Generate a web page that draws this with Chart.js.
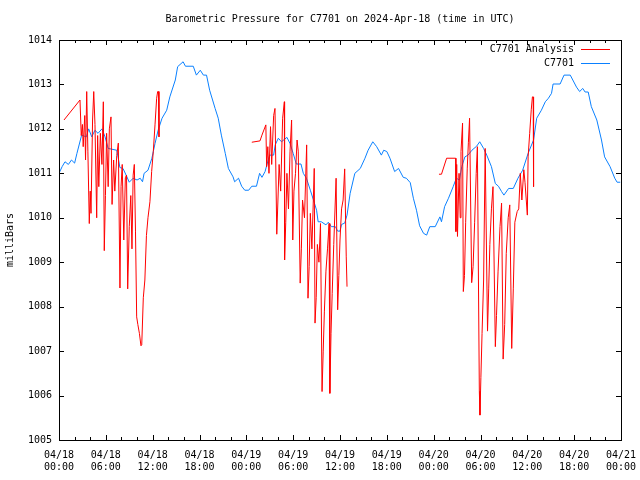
<!DOCTYPE html>
<html>
<head>
<meta charset="utf-8">
<script src="https://cdn.jsdelivr.net/npm/chart.js@4.4.1/dist/chart.umd.min.js"></script>
<style>
  html, body { margin: 0; padding: 0; background: #fff; }
  canvas { display: block; }
</style>
</head>
<body>
<canvas id="chart" width="640" height="480"></canvas>
<script>
// hours since 04/18 00:00 UTC, pressure in mb
const stationSeries = [
  [0,1011.0],[0.4,1011.15],[0.77,1011.26],[1.2,1011.2],[1.6,1011.3],[2.0,1011.23],[2.3,1011.45],[2.9,1011.86],
  [3.5,1011.82],[3.8,1012.0],[4.2,1011.82],[4.6,1011.97],[5.0,1011.9],[5.5,1012.0],[5.9,1011.82],[6.3,1011.56],
  [7.4,1011.52],[7.6,1011.34],[7.8,1011.13],[8.2,1011.11],[8.7,1010.92],[9.0,1010.8],[9.5,1010.89],[10.0,1010.85],
  [10.4,1010.89],[10.7,1010.81],[10.9,1011.0],[11.4,1011.07],[11.9,1011.34],[12.3,1011.67],[12.7,1011.97],
  [13.2,1012.24],[13.8,1012.42],[14.2,1012.72],[14.9,1013.1],[15.2,1013.4],[15.9,1013.51],[16.2,1013.41],
  [17.2,1013.41],[17.6,1013.21],[18.1,1013.32],[18.5,1013.21],[18.9,1013.21],[19.3,1012.87],[20.0,1012.46],
  [20.4,1012.24],[20.8,1011.86],[21.3,1011.45],[21.7,1011.11],[22.3,1010.92],[22.5,1010.81],[23.0,1010.89],
  [23.4,1010.71],[23.8,1010.62],[24.3,1010.62],[24.7,1010.71],[25.3,1010.71],[25.7,1011.0],[26.0,1010.91],
  [26.4,1011.04],[26.8,1011.3],[27.0,1011.41],[27.5,1011.41],[27.7,1011.64],[28.1,1011.79],[28.5,1011.71],
  [29.2,1011.81],[29.6,1011.67],[30.0,1011.45],[30.4,1011.21],[31.0,1011.21],[31.3,1011.0],[31.7,1010.89],
  [32.2,1010.62],[32.6,1010.4],[33.0,1010.17],[33.2,1009.91],[33.6,1009.91],[34.2,1009.84],[34.5,1009.9],
  [34.9,1009.8],[35.4,1009.8],[35.7,1009.7],[36.0,1009.7],[36.2,1009.85],[36.6,1009.88],[36.9,1010.06],
  [37.3,1010.55],[37.9,1011.0],[38.6,1011.11],[39.2,1011.34],[39.6,1011.52],[40.2,1011.71],[40.7,1011.6],
  [41.3,1011.41],[41.6,1011.52],[42.0,1011.49],[42.4,1011.34],[43.0,1011.04],[43.5,1011.11],[44.1,1010.91],
  [44.5,1010.89],[45.0,1010.79],[45.4,1010.44],[45.8,1010.17],[46.2,1009.82],[46.7,1009.65],[47.1,1009.61],
  [47.5,1009.8],[48.2,1009.8],[48.8,1010.02],[49.0,1009.91],[49.4,1010.25],[49.9,1010.44],[50.5,1010.7],
  [50.9,1010.89],[51.3,1010.85],[51.6,1011.15],[52.0,1011.37],[52.4,1011.41],[52.9,1011.52],[53.5,1011.61],
  [53.9,1011.71],[54.4,1011.56],[54.8,1011.41],[55.4,1011.15],[55.9,1010.77],[56.3,1010.71],[56.7,1010.59],
  [57.0,1010.51],[57.6,1010.66],[58.2,1010.66],[58.8,1010.89],[59.4,1011.07],[60.1,1011.45],[60.8,1011.75],
  [61.2,1012.24],[61.8,1012.42],[62.3,1012.61],[62.7,1012.69],[63.1,1012.8],[63.3,1013.01],[64.2,1013.01],
  [64.7,1013.21],[65.5,1013.21],[66.3,1012.94],[66.7,1012.84],[67.1,1012.91],[67.4,1012.83],[67.8,1012.83],
  [68.2,1012.5],[68.9,1012.2],[69.5,1011.75],[69.9,1011.37],[70.6,1011.15],[71.2,1010.89],[71.5,1010.8],[71.9,1010.8]
];

const analysisDay1 = [
  [0.64,1012.2],[2.69,1012.65],[2.85,1011.85],[3.0,1012.1],[3.1,1011.6],[3.3,1012.3],[3.4,1011.3],[3.55,1012.84],
  [3.7,1011.5],[3.88,1009.87],[4.0,1010.6],[4.1,1010.1],[4.3,1012.2],[4.45,1012.84],[4.61,1012.1],[4.83,1010.0],
  [4.95,1011.85],[5.1,1010.7],[5.3,1011.9],[5.5,1011.2],[5.68,1012.61],[5.8,1009.26],[5.95,1010.5],[6.1,1011.9],
  [6.3,1010.7],[6.45,1012.0],[6.66,1012.27],[6.8,1010.3],[7.0,1011.3],[7.15,1010.6],[7.4,1011.4],[7.6,1011.68],
  [7.81,1008.42],[7.95,1010.7],[8.1,1011.2],[8.3,1009.5],[8.5,1010.9],[8.65,1010.96],[8.8,1008.4],[9.0,1009.8],
  [9.2,1010.5],[9.35,1009.3],[9.5,1010.96],[9.65,1011.2],[9.8,1009.7],[9.95,1007.77],[10.1,1007.6],[10.3,1007.4],
  [10.5,1007.12],[10.6,1007.14],[10.8,1008.2],[11.0,1008.6],[11.2,1009.6],[11.4,1010.0],[11.65,1010.36],
  [11.87,1011.04],[12.08,1011.49],[12.3,1012.09],[12.51,1012.69],[12.64,1012.84],[12.75,1012.84],[12.81,1011.82]
];

const analysisDay2 = [
  [24.7,1011.7],[25.75,1011.73],[26.0,1011.86],[26.5,1012.09],[26.6,1011.15],[26.75,1011.6],[26.9,1011.0],
  [27.1,1012.05],[27.25,1011.2],[27.5,1012.3],[27.67,1012.46],[27.9,1009.63],[28.05,1010.4],[28.2,1011.2],
  [28.4,1010.6],[28.65,1012.24],[28.87,1012.61],[28.9,1009.05],[29.05,1009.9],[29.2,1011.0],[29.4,1010.2],
  [29.6,1011.5],[29.8,1012.2],[29.95,1009.5],[30.1,1010.6],[30.3,1011.0],[30.5,1011.75],[30.65,1011.5],
  [30.9,1008.53],[31.05,1009.3],[31.2,1010.4],[31.45,1010.0],[31.73,1011.64],[31.9,1008.19],[32.05,1008.9],
  [32.2,1010.1],[32.4,1009.3],[32.7,1011.11],[32.8,1007.63],[32.95,1008.2],[33.1,1009.4],[33.3,1009.0],
  [33.5,1009.87],[33.7,1006.09],[33.85,1007.0],[34.0,1007.9],[34.2,1008.8],[34.4,1009.3],[34.6,1009.87],
  [34.7,1006.05],[34.85,1007.4],[35.0,1008.3],[35.2,1009.4],[35.5,1010.89],[35.7,1007.93],[35.85,1008.7],
  [36.0,1009.5],[36.2,1010.2],[36.4,1010.4],[36.6,1011.1],[36.8,1009.12],[36.9,1008.45]
];

const analysisDay3 = [
  [48.68,1010.98],[49.0,1010.98],[49.66,1011.34],[50.82,1011.34],[50.85,1009.69],[50.95,1011.2],[51.05,1009.58],
  [51.25,1011.0],[51.4,1010.0],[51.5,1011.49],[51.7,1012.13],[51.8,1008.34],[51.95,1008.7],[52.1,1009.9],
  [52.3,1011.1],[52.45,1011.7],[52.6,1012.24],[52.87,1008.54],[53.05,1008.9],[53.25,1009.9],[53.45,1011.0],
  [53.6,1011.6],[53.85,1006.1],[53.93,1005.56],[54.05,1006.4],[54.2,1007.4],[54.4,1008.6],[54.6,1011.56],
  [54.75,1009.5],[54.9,1007.45],[55.05,1008.4],[55.2,1009.4],[55.4,1010.2],[55.6,1010.7],[55.9,1007.1],
  [56.05,1007.8],[56.25,1008.8],[56.5,1009.8],[56.7,1010.33],[56.9,1006.82],[57.1,1007.6],[57.3,1009.2],
  [57.55,1010.0],[57.75,1010.29],[58.0,1007.06],[58.2,1008.4],[58.4,1009.9],[58.7,1010.14],[58.9,1010.2],
  [59.1,1011.0],[59.3,1010.4],[59.55,1011.08],[59.7,1010.8],[60.0,1010.06],[60.1,1011.37],[60.3,1011.9],
  [60.5,1012.43],[60.65,1012.72],[60.75,1012.72],[60.8,1010.7]
];

const dayLabels = ['04/18', '04/19', '04/20', '04/21'];
const yTicks = [1005, 1006, 1007, 1008, 1009, 1010, 1011, 1012, 1013, 1014];

const FONT = 'DejaVu Sans Mono';
const RED = '#ff0000';
const BLUE = '#0a80ff';

const toPoints = arr => arr.map(p => ({ x: p[0], y: p[1] }));
const gap = x => ({ x: x, y: null });
const analysisPoints = [
  ...toPoints(analysisDay1), gap(18),
  ...toPoints(analysisDay2), gap(42),
  ...toPoints(analysisDay3)
];

// gnuplot style frame with inward ticks, mirrored on all four sides
const framePlugin = {
  id: 'frame',
  afterDatasetsDraw(chart) {
    const { ctx, chartArea: a, scales: { x, y } } = chart;
    ctx.save();
    ctx.strokeStyle = '#000';
    ctx.lineWidth = 1;
    ctx.beginPath();
    for (let h = 0; h <= 72; h += 2) {
      const px = Math.round(x.getPixelForValue(h)) + 0.5;
      const len = h % 6 === 0 ? 5 : 3;
      ctx.moveTo(px, a.bottom); ctx.lineTo(px, a.bottom - len);
      ctx.moveTo(px, a.top); ctx.lineTo(px, a.top + len);
    }
    yTicks.forEach(v => {
      const py = Math.round(y.getPixelForValue(v)) + 0.5;
      ctx.moveTo(a.left, py); ctx.lineTo(a.left + 5, py);
      ctx.moveTo(a.right, py); ctx.lineTo(a.right - 5, py);
    });
    ctx.stroke();
    ctx.strokeRect(a.left + 0.5, a.top + 0.5, a.right - a.left, a.bottom - a.top);

    // key, top right
    ctx.font = '10px "' + FONT + '"';
    ctx.fillStyle = '#000';
    ctx.textAlign = 'right';
    ctx.textBaseline = 'middle';
    chart.data.datasets.forEach((ds, i) => {
      const ky = a.top + 9 + i * 14;
      ctx.fillText(ds.label, a.right - 47, ky);
      ctx.strokeStyle = ds.borderColor;
      ctx.beginPath();
      ctx.moveTo(a.right - 40, ky + 0.5);
      ctx.lineTo(a.right - 11, ky + 0.5);
      ctx.stroke();
    });
    ctx.restore();
  }
};

new Chart(document.getElementById('chart'), {
  type: 'line',
  data: {
    datasets: [
      {
        label: 'C7701 Analysis',
        data: analysisPoints,
        borderColor: RED,
        borderWidth: 1,
        pointRadius: 0,
        spanGaps: false,
        tension: 0
      },
      {
        label: 'C7701',
        data: toPoints(stationSeries),
        borderColor: BLUE,
        borderWidth: 1,
        pointRadius: 0,
        tension: 0
      }
    ]
  },
  options: {
    responsive: false,
    devicePixelRatio: 1,
    animation: false,
    layout: { padding: { left: 0, right: 19, top: 0, bottom: 0 } },
    plugins: {
      legend: { display: false },
      tooltip: { enabled: false },
      title: {
        display: true,
        fullSize: false,
        text: 'Barometric Pressure for C7701 on 2024-Apr-18 (time in UTC)',
        color: '#000',
        font: { family: FONT, size: 10, weight: 'normal' },
        padding: { top: 13, bottom: 15 }
      }
    },
    scales: {
      x: {
        type: 'linear',
        min: 0,
        max: 72,
        grid: { display: false, drawTicks: false },
        border: { display: false },
        afterFit: s => { s.height = 40; s.paddingLeft = 0; s.paddingRight = 0; },
        ticks: {
          stepSize: 6,
          autoSkip: false,
          maxRotation: 0,
          padding: 9,
          color: '#000',
          font: { family: FONT, size: 10 },
          callback: v => {
            const hh = v % 24;
            return [dayLabels[Math.floor(v / 24)], (hh < 10 ? '0' : '') + hh + ':00'];
          }
        }
      },
      y: {
        min: 1005,
        max: 1014,
        grid: { display: false, drawTicks: false },
        border: { display: false },
        afterFit: s => { s.width = 59; s.paddingTop = 0; s.paddingBottom = 0; },
        title: {
          display: true,
          text: 'milliBars',
          color: '#000',
          font: { family: FONT, size: 10 },
          padding: { top: 4, bottom: 4 }
        },
        ticks: {
          stepSize: 1,
          padding: 7,
          color: '#000',
          font: { family: FONT, size: 10 },
          callback: v => String(v)
        }
      }
    }
  },
  plugins: [framePlugin]
});
</script>
</body>
</html>
